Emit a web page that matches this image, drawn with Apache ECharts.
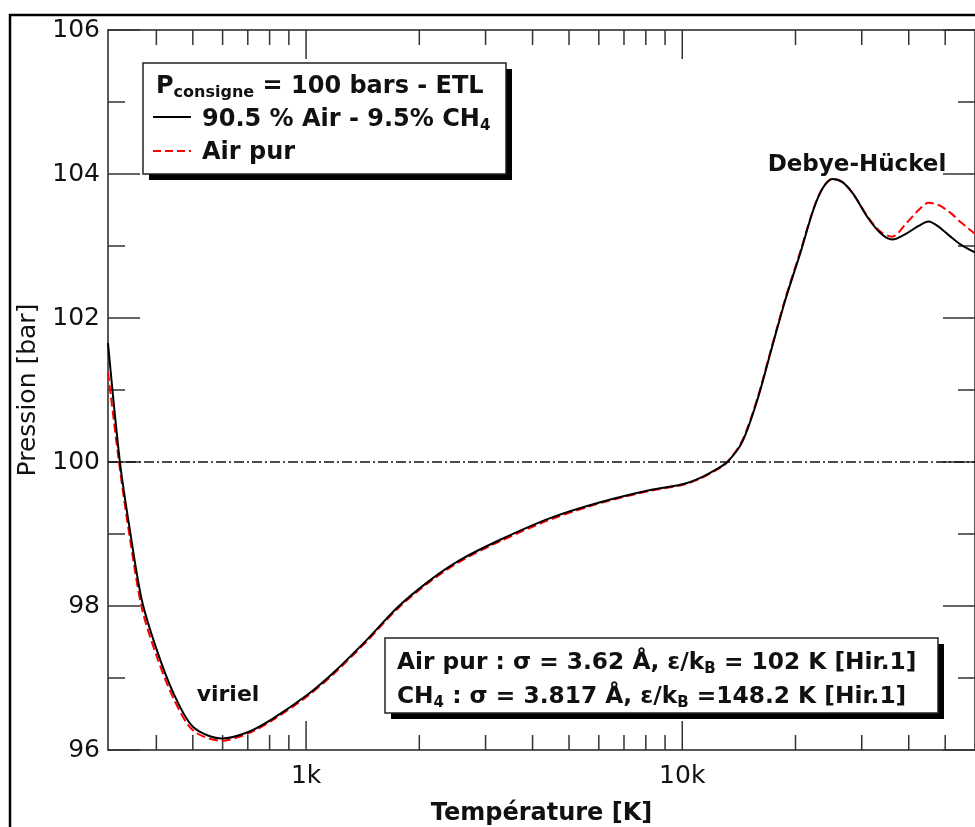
<!DOCTYPE html>
<html>
<head>
<meta charset="utf-8">
<script src="https://cdn.jsdelivr.net/npm/echarts@6/dist/echarts.min.js"></script>
<style>
  html, body { margin: 0; padding: 0; background: #fff; }
  #chart { width: 975px; height: 827px; }
</style>
</head>
<body>
<div id="chart"></div>
<script>
// temperature [K] and pressure [bar]
const temps = [297.5, 320, 340, 366, 401, 444, 501, 597, 702, 818, 1004, 1180, 1450, 1757, 2138, 2570,
  3281, 4457, 6053, 8222, 10000, 11170, 12240, 13170, 14440, 15830, 17250, 18790, 20590, 22300, 23600,
  25050, 26600, 28500, 30980, 33620, 36120, 39610, 42500, 45120, 48000, 51640, 55000, 60000];
const pMix = [101.65, 100.0, 99.06, 98.08, 97.39, 96.79, 96.32, 96.16, 96.25, 96.44, 96.76, 97.07, 97.53,
  97.99, 98.36, 98.64, 98.92, 99.22, 99.44, 99.61, 99.69, 99.78, 99.89, 100.0, 100.28, 100.86, 101.56,
  102.25, 102.9, 103.5, 103.8, 103.93, 103.89, 103.72, 103.41, 103.18, 103.09, 103.18, 103.28, 103.34,
  103.27, 103.13, 103.02, 102.91];
const pAir = [101.25, 99.9, 98.95, 97.97, 97.3, 96.72, 96.27, 96.13, 96.23, 96.42, 96.74, 97.05, 97.51,
  97.97, 98.34, 98.62, 98.9, 99.2, 99.43, 99.6, 99.68, 99.77, 99.88, 100.0, 100.3, 100.88, 101.58,
  102.27, 102.92, 103.51, 103.8, 103.93, 103.89, 103.72, 103.42, 103.2, 103.13, 103.33, 103.5, 103.6,
  103.57, 103.46, 103.33, 103.17];
const pSet = 100;

const xMajorTicks = [1000, 10000];
const xMinorTicks = [400, 500, 600, 700, 800, 900, 2000, 3000, 4000, 5000, 6000, 7000, 8000, 9000,
  20000, 30000, 40000, 50000];
const xLabels = { 1000: '1k', 10000: '10k' };

const font = 'DejaVu Sans';
const tickColor = '#333';

const chart = echarts.init(document.getElementById('chart'));

function tickSeries(vals, len) {
  return {
    type: 'custom',
    silent: true,
    data: vals.map(v => [v, 96]),
    renderItem: function (params, api) {
      const v = api.value(0);
      const b = api.coord([v, 96]);
      const t = api.coord([v, 106]);
      const st = { stroke: tickColor, lineWidth: 1.5 };
      return {
        type: 'group',
        children: [
          { type: 'line', shape: { x1: b[0], y1: b[1], x2: b[0], y2: b[1] - len }, style: st },
          { type: 'line', shape: { x1: t[0], y1: t[1], x2: t[0], y2: t[1] + len }, style: st }
        ]
      };
    }
  };
}

function boxText(x, y, text, size, sub) {
  return {
    type: 'text', z: 102,
    style: {
      x: x, y: y, text: text, align: 'left', verticalAlign: 'middle',
      rich: {
        m: { fontFamily: font, fontWeight: 'bold', fontSize: size, lineHeight: size + 4, fill: '#111' },
        s: { fontFamily: font, fontWeight: 'bold', fontSize: sub, lineHeight: sub, verticalAlign: 'bottom', fill: '#111' }
      }
    }
  };
}

const yAxisBase = {
  type: 'value', min: 96, max: 106, interval: 2,
  axisLine: { show: true, lineStyle: { color: '#222', width: 1.5 } },
  axisTick: { show: true, inside: true, length: 32, lineStyle: { color: tickColor, width: 1.5 } },
  minorTick: { show: true, splitNumber: 2, length: 17, lineStyle: { color: tickColor, width: 1.5 } },
  splitLine: { show: false }
};

chart.setOption({
  animation: false,
  backgroundColor: '#fff',
  grid: { left: 108, top: 30, right: 0, bottom: 77, outerBoundsMode: 'none', containLabel: false },
  xAxis: [{
    type: 'log', min: 297.5, max: 60000, position: 'bottom',
    axisLine: { show: true, lineStyle: { color: '#222', width: 1.5 } },
    axisTick: { show: false },
    splitLine: { show: false },
    axisLabel: {
      fontFamily: font, fontSize: 25, color: '#111', margin: 26, verticalAlign: 'middle',
      formatter: v => xLabels[Math.round(v)] || ''
    },
    name: 'Température [K]', nameLocation: 'middle', nameGap: 64,
    nameTextStyle: { fontFamily: font, fontWeight: 'bold', fontSize: 24, color: '#111', verticalAlign: 'middle' }
  }, {
    type: 'log', min: 297.5, max: 60000, position: 'top',
    axisLine: { show: true, lineStyle: { color: '#222', width: 1.5 } },
    axisTick: { show: false }, axisLabel: { show: false }, splitLine: { show: false }
  }],
  yAxis: [Object.assign({}, yAxisBase, {
    position: 'left',
    axisLabel: { fontFamily: font, fontSize: 25, color: '#111', margin: 8 },
    name: 'Pression [bar]', nameLocation: 'middle', nameGap: 78,
    nameTextStyle: { fontFamily: font, fontSize: 25, color: '#111', verticalAlign: 'middle' }
  }), Object.assign({}, yAxisBase, {
    position: 'right', axisLabel: { show: false }
  })],
  series: [
    tickSeries(xMinorTicks, 15),
    tickSeries(xMajorTicks, 29),
    {
      name: 'consigne', type: 'line', symbol: 'none', silent: true,
      data: [[temps[0], pSet], [temps[temps.length - 1], pSet]],
      lineStyle: { color: '#111', width: 1.3, type: [10, 3, 2, 3] }
    },
    {
      name: 'Air pur', type: 'line', symbol: 'none', smooth: 0.3, silent: true, z: 3,
      data: temps.map((t, i) => [t, pAir[i]]),
      lineStyle: { color: '#ff0000', width: 2, type: [9, 4] }
    },
    {
      name: '90.5 % Air - 9.5% CH4', type: 'line', symbol: 'none', smooth: 0.3, silent: true, z: 4,
      data: temps.map((t, i) => [t, pMix[i]]),
      lineStyle: { color: '#000', width: 2 }
    }
  ],
  graphic: [
    // outer frame
    { type: 'rect', z: 100, shape: { x: 10, y: 15, width: 1000, height: 900 },
      style: { fill: 'none', stroke: '#000', lineWidth: 2.5 } },
    // legend box
    { type: 'rect', z: 100, shape: { x: 149, y: 69, width: 363, height: 111 }, style: { fill: '#000' } },
    { type: 'rect', z: 101, shape: { x: 143, y: 63, width: 363, height: 111 },
      style: { fill: '#fff', stroke: '#222', lineWidth: 1.5 } },
    boxText(156, 87, '{m|P}{s|consigne}{m| = 100 bars - ETL}', 24, 16),
    { type: 'line', z: 102, shape: { x1: 153, y1: 117, x2: 191, y2: 117 }, style: { stroke: '#000', lineWidth: 2 } },
    boxText(202, 120, '{m|90.5 % Air - 9.5% CH}{s|4}', 24, 15),
    { type: 'line', z: 102, shape: { x1: 153, y1: 151, x2: 191, y2: 151 },
      style: { stroke: '#ff0000', lineWidth: 2, lineDash: [8, 4] } },
    boxText(202, 153, '{m|Air pur}', 24, 15),
    // parameters box
    { type: 'rect', z: 100, shape: { x: 391, y: 644, width: 553, height: 75 }, style: { fill: '#000' } },
    { type: 'rect', z: 101, shape: { x: 385, y: 638, width: 553, height: 75 },
      style: { fill: '#fff', stroke: '#222', lineWidth: 1.5 } },
    boxText(397, 663, '{m|Air pur : σ = 3.62 Å, ε/k}{s|B}{m| = 102 K [Hir.1]}', 23.3, 15),
    boxText(397, 697, '{m|CH}{s|4}{m| : σ = 3.817 Å, ε/k}{s|B}{m| =148.2 K [Hir.1]}', 23.3, 15),
    // region labels
    { type: 'text', z: 102, style: { x: 228, y: 695, text: 'viriel', align: 'center', verticalAlign: 'middle',
      fontFamily: font, fontWeight: 'bold', fontSize: 22, fill: '#111' } },
    { type: 'text', z: 102, style: { x: 857, y: 165, text: 'Debye-Hückel', align: 'center', verticalAlign: 'middle',
      fontFamily: font, fontWeight: 'bold', fontSize: 23, fill: '#111' } }
  ]
});
</script>
</body>
</html>
